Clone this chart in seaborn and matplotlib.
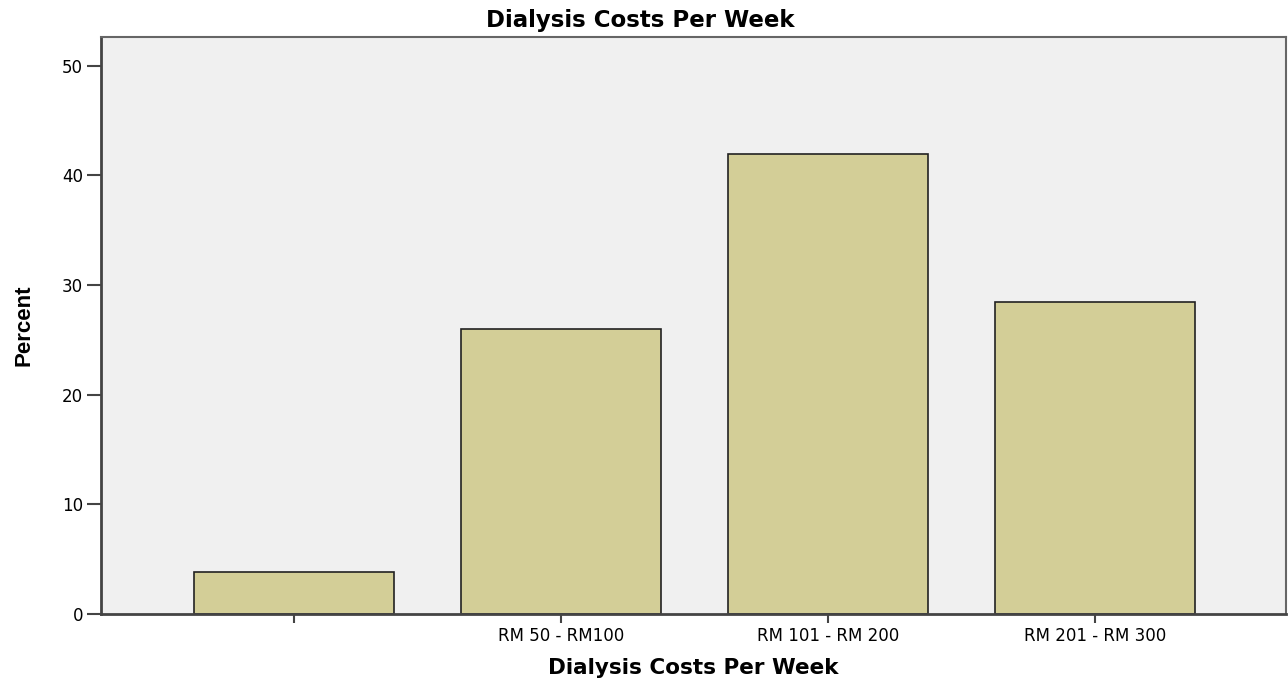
import pandas as pd
import matplotlib
matplotlib.use('Agg')
import matplotlib.pyplot as plt
import seaborn as sns

sns.set_style('white')
plt.rcParams['font.family'] = ['DejaVu Sans']
plt.rcParams['text.color'] = 'black'
plt.rcParams['axes.labelcolor'] = 'black'

categories = ['', 'RM 50 - RM100', 'RM 101 - RM 200', 'RM 201 - RM 300']
percent = [3.8, 26.0, 41.9, 28.4]
y_ticks = [0, 10, 20, 30, 40, 50]

df = pd.DataFrame({'cost': categories, 'percent': percent})

fig = plt.figure(figsize=(12.88, 6.81), dpi=100)
ax = fig.add_axes([101 / 1288, 1 - 614 / 681, (1286 - 101) / 1288, (614 - 37) / 681])
ax.set_facecolor('#f0f0f0')

sns.barplot(data=df, x='cost', y='percent', color='#d3ce97', width=0.75,
            edgecolor='#222222', linewidth=1.2, saturation=1, ax=ax)

ax.set_xlim(-0.723, 3.715)
ax.set_ylim(0, 52.6)
ax.set_yticks(y_ticks)
ax.tick_params(axis='y', direction='out', length=10, width=1.5, color='#444444',
               labelsize=12, labelcolor='black', left=True, pad=3)
ax.tick_params(axis='x', direction='out', length=6.5, width=1.5, color='#444444',
               labelsize=12, labelcolor='black', bottom=True, pad=3)

for side in ['left', 'bottom']:
    ax.spines[side].set_color('#444444')
    ax.spines[side].set_linewidth(2)
for side in ['top', 'right']:
    ax.spines[side].set_color('#666666')
    ax.spines[side].set_linewidth(1.5)

ax.set_xlabel('Dialysis Costs Per Week', fontsize=15.5, fontweight='bold', labelpad=9)
ax.set_ylabel('Percent', fontsize=16, fontweight='bold', labelpad=20,
              family=['Liberation Sans', 'DejaVu Sans'])
fig.suptitle('Dialysis Costs Per Week', fontsize=16.5, fontweight='bold', x=0.497, y=0.987)

fig.savefig('out.png', dpi=100)
